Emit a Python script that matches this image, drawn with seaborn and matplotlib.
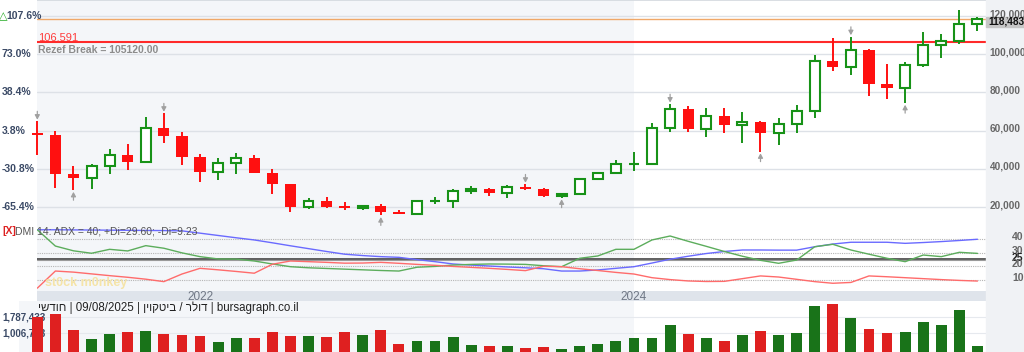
import matplotlib
matplotlib.use("Agg")
import matplotlib.pyplot as plt
import matplotlib.transforms as mtrans
from matplotlib.patches import Rectangle
import numpy as np
import seaborn as sns

# monthly BTC/USD candles, April 2021 .. August 2025
opens = [58800, 57700, 37300, 35000, 41500, 47100, 43800, 61300, 57000, 46200,
         38500, 43200, 45500, 37700, 31800, 19900, 23300, 20050, 19430, 20500,
         17170, 16540, 23125, 23150, 28480, 29270, 27220, 30480, 29230, 25940,
         26970, 34660, 37720, 42280, 42580, 61170, 71300, 60640, 67490, 62680,
         64620, 58970, 63330, 70220, 96450, 93430, 102410, 84370, 82550, 94210,
         104640, 107140, 115760]
highs = [64860, 59600, 41300, 42400, 50500, 52900, 67000, 69000, 59100, 47900,
         45800, 48200, 47400, 40000, 31900, 24600, 25200, 22700, 21000, 21400,
         18400, 23900, 25200, 29200, 31000, 29800, 31400, 31800, 30100, 27500,
         35200, 38400, 44700, 48900, 64000, 73800, 72800, 71900, 72000, 70000,
         65000, 66500, 73600, 99600, 108300, 109100, 102500, 95000, 95800, 111900,
         110500, 123100, 119300]
lows = [47000, 30000, 28800, 29300, 37300, 39600, 43300, 53300, 42000, 32900,
        34300, 37200, 37700, 26700, 17600, 18800, 19600, 18200, 18200, 15600,
        16300, 16500, 21400, 19600, 26900, 25900, 24800, 28900, 25400, 24900,
        26600, 34100, 37600, 38600, 41900, 59100, 59200, 56600, 58600, 53500,
        49000, 52600, 58900, 66800, 91300, 89200, 78200, 76600, 74400, 93400,
        98200, 105100, 112000]
closes = [57700, 37300, 35000, 41500, 47100, 43800, 61300, 57000, 46200, 38500,
          43200, 45500, 37700, 31800, 19900, 23300, 20050, 19430, 20500, 17170,
          16540, 23130, 23150, 28480, 29270, 27220, 30480, 29230, 25940, 26970,
          34660, 37720, 42280, 42580, 61170, 71300, 60640, 67490, 62680, 64620,
          58970, 63330, 70220, 96450, 93430, 102410, 84370, 82550, 94210, 104640,
          107140, 115760, 118483]
volumes = [1787433, 1960000, 1140000, 725000, 940000, 1040000, 1110000, 975000, 890000, 860000,
           575000, 775000, 775000, 1040000, 860000, 860000, 825000, 1075000, 890000, 1175000,
           460000, 610000, 640000, 825000, 425000, 360000, 375000, 275000, 325000, 240000,
           390000, 475000, 640000, 760000, 760000, 1410000, 940000, 790000, 640000, 890000,
           1110000, 910000, 1010000, 2360000, 2460000, 1760000, 1225000, 1010000, 1075000, 1540000,
           1425000, 2125000, 375000]

# DMI 14
adx = [47.0, 47.0, 46.9, 46.8, 46.7, 46.6, 46.5, 46.4, 46.2, 44.5,
       42.8, 41.1, 39.5, 37.4, 35.2, 33.1, 31.0, 29.0, 28.0, 27.2,
       26.7, 25.0, 23.5, 21.8, 21.0, 20.3, 19.6, 19.0, 18.3, 16.6,
       16.6, 17.4, 18.6, 19.8, 22.5, 25.3, 27.5, 29.5, 31.0, 32.1,
       32.1, 32.0, 32.0, 34.5, 36.5, 37.8, 37.8, 37.8, 37.0, 37.6,
       38.3, 39.1, 40.0]
plus_di = [47.0, 35.0, 31.5, 29.7, 32.6, 31.4, 35.3, 33.4, 30.0, 27.2,
           25.5, 25.4, 24.0, 21.8, 19.8, 19.0, 18.5, 18.0, 17.5, 17.0,
           16.6, 19.4, 20.0, 21.0, 21.5, 21.8, 21.7, 21.5, 20.5, 19.8,
           26.0, 27.7, 32.6, 32.6, 39.5, 42.4, 38.5, 34.8, 31.0, 27.5,
           24.5, 22.3, 24.7, 34.5, 36.3, 32.1, 29.0, 26.0, 23.5, 28.4,
           27.2, 30.4, 29.6]
minus_di = [4.0, 16.6, 15.8, 14.5, 13.2, 12.0, 10.6, 8.8, 14.4, 18.6,
            17.5, 16.3, 15.0, 21.6, 24.0, 23.5, 23.0, 22.4, 22.5, 23.0,
            22.3, 21.5, 20.8, 20.0, 19.3, 18.6, 17.8, 16.9, 20.1, 19.8,
            18.3, 17.0, 15.6, 14.4, 11.7, 10.3, 9.3, 8.9, 9.0, 11.0,
            13.0, 12.2, 10.5, 8.8, 7.6, 8.2, 13.0, 12.4, 11.7, 11.0,
            10.3, 9.7, 9.23]

# axis labels
price_ticks = [120000, 100000, 80000, 60000, 40000, 20000]
pct_labels = ["107.6%", "73.0%", "38.4%", "3.8%", "-30.8%", "-65.4%"]
dmi_ticks = [40, 30, 25, 20, 10]
year_labels = ["2022", "2024"]
year_pos = [9, 33]
vol_marks = [1787433, 1006733]
vol_mark_labels = ["1,787,433", "1,006,733"]

# swing markers: candle index and direction
swing_idx = [0, 2, 7, 19, 27, 29, 35, 40, 45, 48]
swing_dir = ["down", "up", "down", "up", "down", "up", "down", "up", "down", "up"]

last_price = 118483
rezef_level = 106591

GREEN = "#179217"
RED = "#ff1010"
SHADE = "#f4f6f9"

sns.set_theme(style="white")
plt.rcParams['font.family'] = ['Liberation Sans', 'DejaVu Sans']

W, H = 1024, 352
fig = plt.figure(figsize=(W / 100, H / 100), dpi=100)
fig.patch.set_facecolor("white")
L, R = 37.3, 986.0
STEP = 18.08
n = len(closes)
idx = np.arange(n)
xmax = (R - L) / STEP


def panel(top, bottom):
    a = fig.add_axes([L / W, 1 - bottom / H, (R - L) / W, (bottom - top) / H])
    a.set_xlim(0, xmax)
    a.set_xticks([])
    a.set_yticks([])
    for s in a.spines.values():
        s.set_visible(False)
    a.set_facecolor("white")
    a.axvspan(-1, year_pos[1], color=SHADE, zorder=0, lw=0)
    return a


def ftext(px, py, s, **kw):
    return fig.text(px / W, 1 - py / H, s, **kw)


# right axis strip
fig.patches.append(Rectangle((R / W, 0), 1 - R / W, 1, transform=fig.transFigure,
                             color="#f0f2f5", zorder=0))

# ---------------- main price panel
ax = panel(0, 228)
ax.set_ylim(9000, 128400)
ax.axhline(128400, color="#d3d8de", lw=1.2, zorder=1)
for p in price_ticks:
    ax.axhline(p, color="#dde1e7", lw=1, zorder=1)
ax.axhline(last_price, color="#f0a868", lw=1, zorder=2)
ax.axhline(rezef_level, color="#ff2a2a", lw=1.5, zorder=2)

for i in range(n):
    up = closes[i] >= opens[i]
    col = GREEN if up else RED
    ax.vlines(i, lows[i], highs[i], color=col, lw=1.4, zorder=3, clip_on=False)
    lo, hi = min(opens[i], closes[i]), max(opens[i], closes[i])
    if up:
        ax.bar(i, max(hi - lo, 1), bottom=lo, width=0.55, facecolor="white",
               edgecolor=col, linewidth=1.5, zorder=4, clip_on=False)
    else:
        ax.bar(i, max(hi - lo, 900), bottom=lo, width=0.62, color=col,
               linewidth=0, zorder=4, clip_on=False)

for i, d in zip(swing_idx, swing_dir):
    if d == "down":
        xy, off = (i, highs[i]), (0, 7.2)
    else:
        xy, off = (i, lows[i]), (0, -7.2)
    ax.annotate("", xy=xy, xytext=off, textcoords="offset points", annotation_clip=False,
                arrowprops=dict(arrowstyle="-|>,head_length=0.22,head_width=0.12",
                                color="#a0a0a0", lw=0.9, shrinkA=0, shrinkB=1.2))

tr_main = mtrans.blended_transform_factory(fig.transFigure, ax.transData)
for p, lab in zip(price_ticks, pct_labels):
    fig.text(2 / W if not lab.startswith("1") else 6 / W, p, lab, transform=tr_main,
             ha="left", va="center", fontsize=7.5, fontweight="bold", color="#3b4a66")
    fig.text(989.5 / W, p + 1000, f"{p:,}", transform=tr_main, ha="left", va="center",
             fontsize=7.2, fontweight="bold", color="#666666")
ftext(-1.5, 16, "△", fontsize=8, color="#22aa22", ha="left", va="center",
      family=["DejaVu Sans"])

fig.patches.append(Rectangle((R / W, 1 - 27 / H), 1 - R / W, 10.5 / H,
                             transform=fig.transFigure, color="#c6c6c6", zorder=3))
ftext(988, 22, f"{last_price:,}", fontsize=7.3, fontweight="bold", color="#111111",
      ha="left", va="center", zorder=4)
ftext(38, 37, f"{rezef_level:,}", fontsize=8, color="#ff3b3b", ha="left", va="center")
ftext(38, 50, "Rezef Break = 105120.00", fontsize=7.5, fontweight="bold",
      color="#8c8c8c", ha="left", va="center")

# ---------------- DMI panel
ax2 = panel(228, 291)
ax2.set_ylim(1.9, 48.3)
for v in [40, 30, 20, 10]:
    ax2.axhline(v, color="#b5b5b5", lw=0.8, ls=(0, (1, 1)), zorder=1)
ax2.axhline(25.3, color="#333333", lw=1.1, zorder=1)
ax2.axhline(24.6, color="#9a9a9a", lw=0.8, zorder=1)
sns.lineplot(x=idx, y=adx, color="#6a6aff", lw=1, ax=ax2, zorder=3)
sns.lineplot(x=idx, y=plus_di, color="#5cad5c", lw=1, ax=ax2, zorder=3)
sns.lineplot(x=idx, y=minus_di, color="#ff6b6b", lw=1, ax=ax2, zorder=3)
ax2.set_xlim(0, xmax)
ax2.set_xlabel("")
ax2.set_ylabel("")

tr_dmi = mtrans.offset_copy(mtrans.blended_transform_factory(fig.transFigure, ax2.transData),
                            fig=fig, y=1.5, units="points")
for v in dmi_ticks:
    fig.text(1012 / W, v, str(v), transform=tr_dmi, ha="left", va="center", fontsize=7.5,
             fontweight="bold", color="#222222" if v == 25 else "#666666")
ftext(2, 231, "[X]", fontsize=7.5, fontweight="bold", color="#dd2222", ha="left", va="center")
ftext(15, 231, "DMI 14: ADX = 40; +Di=29.60; -Di=9.23", fontsize=7.5, color="#555555",
      ha="left", va="center")
ftext(45, 283, "st0ck m0nkey", fontsize=9, fontweight="bold", color="#f5e4a8",
      ha="left", va="center")

# ---------------- year strip
ax3 = panel(291, 301)
ax3.set_facecolor("#dfe4eb")
ax3.patches[0].set_visible(False)
ax3.set_ylim(0, 1)
for pos, lab in zip(year_pos, year_labels):
    ax3.text(pos, 0.45, lab, ha="center", va="center", fontsize=8.5, color="#6f7785")

# ---------------- volume panel
ax4 = panel(301, 352)
dirs = ["up" if c >= o else "down" for o, c in zip(opens, closes)]
sns.barplot(x=idx, y=volumes, hue=dirs, palette={"up": "#0a820a", "down": "#ff0000"},
            native_scale=True, width=0.6, dodge=False, legend=False, ax=ax4,
            linewidth=0, zorder=2)
for b in ax4.patches:
    b.set_clip_on(False)
ax4.set_xlim(0, xmax)
ax4.set_ylim(75000, 2590000)
ax4.set_xticks([])
ax4.set_yticks([])
ax4.set_xlabel("")
ax4.set_ylabel("")
for v in vol_marks:
    ax4.axhline(v, color="#e6e9ee", lw=0.8, zorder=1)
tr_vol = mtrans.blended_transform_factory(fig.transFigure, ax4.transData)
for v, lab in zip(vol_marks, vol_mark_labels):
    ax4.text(2 / W, v, lab, transform=tr_vol, ha="left", va="center", fontsize=7,
             fontweight="bold", color="#3b4a66", zorder=1.5, clip_on=False)
ftext(37.5, 307.5, "ישדוח | 09/08/2025 | ןיוקטיב / רלוד | bursagraph.co.il",
      fontsize=8.3, color="#222222", ha="left", va="center")

fig.savefig("out.png", dpi=100, facecolor="white")
